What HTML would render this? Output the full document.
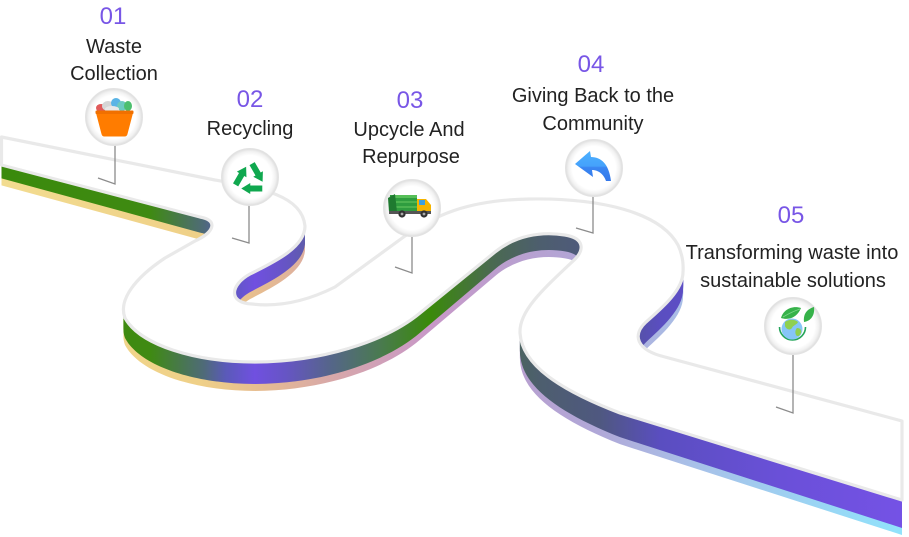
<!DOCTYPE html>
<html><head><meta charset="utf-8"><style>
html,body{margin:0;padding:0;background:#fff;width:909px;height:537px;overflow:hidden}
svg{display:block}
text{font-family:"Liberation Sans",Arial,sans-serif}
</style></head><body>
<svg width="909" height="537" viewBox="0 0 909 537" xmlns="http://www.w3.org/2000/svg">
<defs>
<path id="road" d="M 1.5,137 L 215,180 C 260,188 302,195 305,226 C 305,248 272,263 250,274 C 230,285 228,303 252,304 C 277,307 305,302 335,287 L 405,236 C 435,216 465,200 530,199 C 600,198 660,212 678,245 Q 684,258 683,272 C 683,290 662,308 646,322 C 632,335 636,350 665,357 L 902,421 L 902,500 L 620,413 C 560,390 522,365 520,333 C 519,312 540,292 572,262 C 586,250 584,238 565,235 C 540,231 515,236 495,252 L 420,313 C 385,342 320,362 255,362 C 195,362 140,345 125,318 C 118,300 135,278 165,258 L 195,241 C 215,232 218,220 200,217 L 1.5,165 Z"/>
<linearGradient id="gMain" gradientUnits="userSpaceOnUse" x1="0" y1="0" x2="909" y2="0">
<stop offset="0" stop-color="#3a8a0c"/>
<stop offset="0.165" stop-color="#3f8a12"/>
<stop offset="0.225" stop-color="#4f6a7a"/>
<stop offset="0.248" stop-color="#5a5ab8"/>
<stop offset="0.28" stop-color="#7050e0"/>
<stop offset="0.315" stop-color="#6655c4"/>
<stop offset="0.363" stop-color="#55658a"/>
<stop offset="0.418" stop-color="#4a7a50"/>
<stop offset="0.473" stop-color="#3a8a0a"/>
<stop offset="0.54" stop-color="#4a6a50"/>
<stop offset="0.594" stop-color="#4d5e6e"/>
<stop offset="0.66" stop-color="#4f5880"/>
<stop offset="0.726" stop-color="#5a4ec0"/>
<stop offset="0.858" stop-color="#6a50d8"/>
<stop offset="1" stop-color="#7552e6"/>
</linearGradient>
<linearGradient id="gStrip" gradientUnits="userSpaceOnUse" x1="0" y1="0" x2="909" y2="0">
<stop offset="0" stop-color="#f2dc90"/>
<stop offset="0.22" stop-color="#efd088"/>
<stop offset="0.286" stop-color="#e6bc90"/>
<stop offset="0.363" stop-color="#d8a8a8"/>
<stop offset="0.473" stop-color="#c898c8"/>
<stop offset="0.572" stop-color="#b8a0d0"/>
<stop offset="0.66" stop-color="#b0a8d8"/>
<stop offset="0.76" stop-color="#a8c0e8"/>
<stop offset="1" stop-color="#90e4fc"/>
</linearGradient>
<radialGradient id="gPin" cx="0.5" cy="0.5" r="0.5">
<stop offset="0" stop-color="#ffffff"/>
<stop offset="0.76" stop-color="#ffffff"/>
<stop offset="0.9" stop-color="#f1f1f1"/>
<stop offset="1" stop-color="#dcdcdc"/>
</radialGradient>
<linearGradient id="gArrow" x1="0" y1="0" x2="0" y2="1">
<stop offset="0" stop-color="#4cb0ff"/>
<stop offset="0.5" stop-color="#45a2fb"/>
<stop offset="0.55" stop-color="#3a86f2"/>
<stop offset="1" stop-color="#3478ea"/>
</linearGradient>
</defs>

<g fill="url(#gStrip)">
<use href="#road" transform="matrix(1 0 0 1.002734 0 0.819)"/>
<use href="#road" transform="matrix(1 0 0 1.005469 0 1.638)"/>
<use href="#road" transform="matrix(1 0 0 1.008203 0 2.456)"/>
<use href="#road" transform="matrix(1 0 0 1.010938 0 3.275)"/>
<use href="#road" transform="matrix(1 0 0 1.013672 0 4.094)"/>
<use href="#road" transform="matrix(1 0 0 1.016406 0 4.913)"/>
<use href="#road" transform="matrix(1 0 0 1.019141 0 5.731)"/>
<use href="#road" transform="matrix(1 0 0 1.021875 0 6.55)"/>
<use href="#road" transform="matrix(1 0 0 1.024609 0 7.369)"/>
<use href="#road" transform="matrix(1 0 0 1.027344 0 8.188)"/>
<use href="#road" transform="matrix(1 0 0 1.030078 0 9.006)"/>
<use href="#road" transform="matrix(1 0 0 1.032813 0 9.825)"/>
<use href="#road" transform="matrix(1 0 0 1.035547 0 10.644)"/>
<use href="#road" transform="matrix(1 0 0 1.038281 0 11.463)"/>
<use href="#road" transform="matrix(1 0 0 1.041016 0 12.281)"/>
<use href="#road" transform="matrix(1 0 0 1.04375 0 13.1)"/>
</g>
<g fill="url(#gMain)">
<use href="#road" transform="matrix(1 0 0 1.002734 0 0.381)"/>
<use href="#road" transform="matrix(1 0 0 1.005469 0 0.763)"/>
<use href="#road" transform="matrix(1 0 0 1.008203 0 1.144)"/>
<use href="#road" transform="matrix(1 0 0 1.010938 0 1.525)"/>
<use href="#road" transform="matrix(1 0 0 1.013672 0 1.906)"/>
<use href="#road" transform="matrix(1 0 0 1.016406 0 2.288)"/>
<use href="#road" transform="matrix(1 0 0 1.019141 0 2.669)"/>
<use href="#road" transform="matrix(1 0 0 1.021875 0 3.05)"/>
<use href="#road" transform="matrix(1 0 0 1.024609 0 3.431)"/>
<use href="#road" transform="matrix(1 0 0 1.027344 0 3.813)"/>
<use href="#road" transform="matrix(1 0 0 1.030078 0 4.194)"/>
<use href="#road" transform="matrix(1 0 0 1.032813 0 4.575)"/>
<use href="#road" transform="matrix(1 0 0 1.035547 0 4.956)"/>
<use href="#road" transform="matrix(1 0 0 1.038281 0 5.338)"/>
<use href="#road" transform="matrix(1 0 0 1.041016 0 5.719)"/>
<use href="#road" transform="matrix(1 0 0 1.04375 0 6.1)"/>
</g>
<use href="#road" fill="#ffffff" stroke="#e9e9e9" stroke-width="3.2" stroke-linejoin="round"/>

<g stroke="#8c8c8c" stroke-width="1.3" fill="none">
<polyline points="115,145 115,184 98,178"/>
<polyline points="249,205 249,243 232,238"/>
<polyline points="412,236 412,273 395,267"/>
<polyline points="593,196 593,233 576,228"/>
<polyline points="793,354 793,413 776,407"/>
</g>

<g fill="url(#gPin)" stroke="#e3e3e3" stroke-width="1">
<circle cx="114" cy="117" r="28.5"/>
<circle cx="250" cy="177" r="28.5"/>
<circle cx="412" cy="208" r="28.5"/>
<circle cx="594" cy="168" r="28.5"/>
<circle cx="793" cy="326" r="28.5"/>
</g>

<g>
<ellipse cx="101" cy="108" rx="5" ry="4" fill="#e05a5a"/>
<ellipse cx="108" cy="106" rx="6" ry="5" fill="#d6d6d6"/>
<ellipse cx="116" cy="103" rx="5" ry="5" fill="#5ab4e6"/>
<ellipse cx="122" cy="106" rx="5" ry="5" fill="#6ccac0"/>
<ellipse cx="128" cy="106" rx="4" ry="5" fill="#4cbf6e"/>
<ellipse cx="112" cy="109" rx="7" ry="3" fill="#e8e8e8"/>
<path d="M 96,113 L 133,113 L 127.5,134 Q 127,136.5 124.5,136.5 L 104.5,136.5 Q 102,136.5 101.5,134 Z" fill="#ff7c00"/>
<rect x="95.5" y="110.5" width="38" height="3.5" rx="1" fill="#f07000"/>
</g>

<g fill="#10a84f" transform="translate(250,179)">
<g id="rc"><polygon points="4.7,-16.9 10.7,-6.5 12.9,-7.7 12.6,2.8 3.3,-2.2 5.5,-3.5 -0.5,-13.9"/></g>
<use href="#rc" transform="rotate(120)"/>
<use href="#rc" transform="rotate(240)"/>
</g>

<g>
<path d="M 390,195 L 417,195 L 417,212 L 389,212 Z" fill="#2f9d3f"/>
<path d="M 394,195 L 417,195 L 417,198 L 394,198 Z" fill="#56bf58"/>
<path d="M 396,201 L 417,201 L 417,203 L 396,203 Z" fill="#4cb350"/>
<path d="M 396,206 L 417,206 L 417,208 L 396,208 Z" fill="#4cb350"/>
<path d="M 388,198 L 395,194 L 397,212 L 389,212 Z" fill="#1f7a30"/>
<path d="M 417,199 L 426,199 L 431,205 L 431,212 L 417,212 Z" fill="#f5b400"/>
<rect x="419" y="200" width="6" height="5" fill="#3aa0e0"/>
<rect x="389" y="211" width="42" height="3" fill="#555"/>
<circle cx="402" cy="214" r="3.6" fill="#333"/>
<circle cx="402" cy="214" r="1.4" fill="#aaa"/>
<circle cx="424" cy="214" r="3.6" fill="#333"/>
<circle cx="424" cy="214" r="1.4" fill="#aaa"/>
</g>

<path d="M 575,164 L 590,151 L 591,157 C 601,157 609,164 611,181 L 606,181 C 604,175 599,170 592,170 L 593,177 Z" fill="url(#gArrow)"/>

<g>
<path d="M 779.5,327 A 13,13 0 0 0 805.5,327" fill="none" stroke="#25a55a" stroke-width="1.6"/>
<circle cx="792" cy="329" r="10.5" fill="#86c5f7"/>
<path d="M 785,322 C 789,319 795,319 798,322 C 797,325 793,325 792,328 C 790,331 786,329 785,326 Z" fill="#8fd050"/>
<path d="M 797,328 C 800,328 802,330 801,333 C 800,336 797,337 796,335 C 795,333 795,330 797,328 Z" fill="#8fd050"/>
<path d="M 781,318 C 783,310 792,305 801,308 C 798,316 790,321 781,318 Z" fill="#36b24a"/>
<path d="M 783,317 C 788,314 794,311 800,309" fill="none" stroke="#7fd88a" stroke-width="0.8"/>
<path d="M 804,322 C 803,314 807,309 814,307 C 815,315 811,321 804,322 Z" fill="#36b24a"/>
</g>

<g fill="#7856e6" font-size="24" text-anchor="middle">
<text x="113" y="24">01</text>
<text x="250" y="107">02</text>
<text x="410" y="108">03</text>
<text x="591" y="72">04</text>
<text x="791" y="223">05</text>
</g>
<g fill="#222" font-size="20" text-anchor="middle">
<text x="114" y="53">Waste</text>
<text x="114" y="80">Collection</text>
<text x="250" y="135">Recycling</text>
<text x="409" y="136">Upcycle And</text>
<text x="411" y="163">Repurpose</text>
<text x="593" y="102">Giving Back to the</text>
<text x="593" y="130">Community</text>
<text x="792" y="259">Transforming waste into</text>
<text x="793" y="287">sustainable solutions</text>
</g>
</svg>
</body></html>
